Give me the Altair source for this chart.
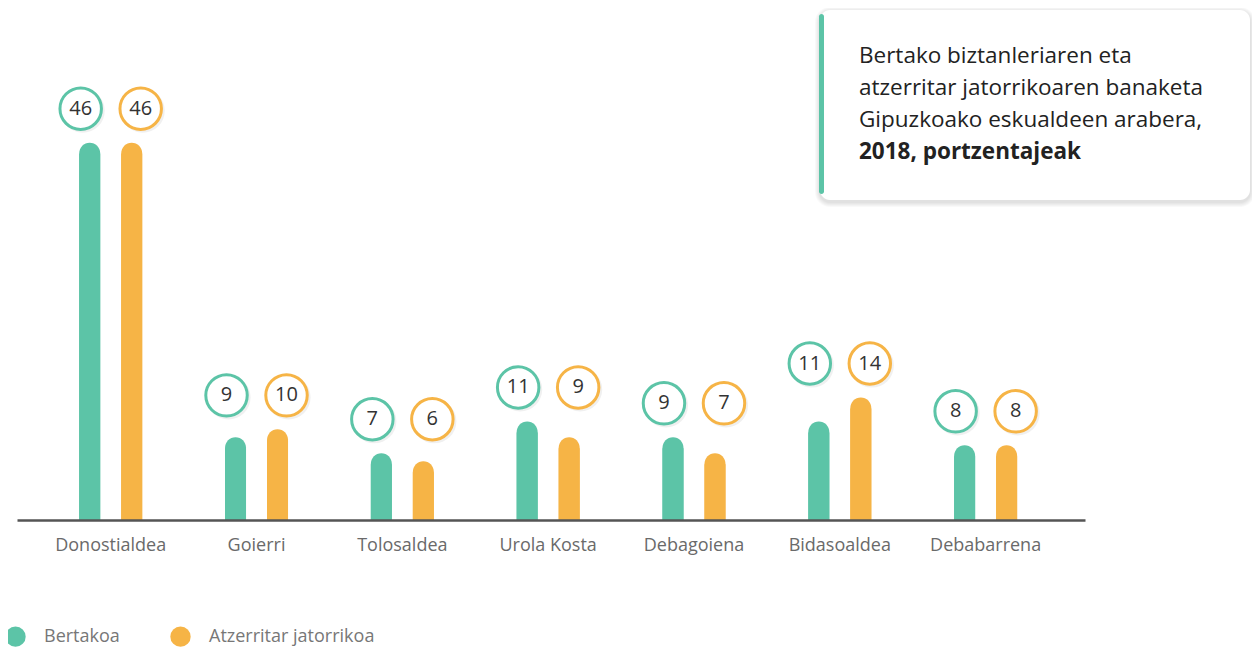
import altair as alt
import pandas as pd

regions = ["Donostialdea", "Goierri", "Tolosaldea", "Urola Kosta",
           "Debagoiena", "Bidasoaldea", "Debabarrena"]
bertakoa = [46, 9, 7, 11, 9, 11, 8]
atzerritar = [46, 10, 6, 9, 7, 14, 8]
series = ["Bertakoa", "Atzerritar jatorrikoa"]
colors = ["#5cc4a7", "#f6b446"]
title_lines = ["Bertako biztanleriaren eta",
               "atzerritar jatorrikoaren banaketa",
               "Gipuzkoako eskualdeen arabera,"]
title_bold = "2018, portzentajeak"

rows = []
for i, r in enumerate(regions):
    m = max(bertakoa[i], atzerritar[i])
    rows.append({"region": r, "serie": series[0], "value": bertakoa[i], "top": m})
    rows.append({"region": r, "serie": series[1], "value": atzerritar[i], "top": m})
df = pd.DataFrame(rows)
dummy = pd.DataFrame({"a": [0]})

FONT = "Open Sans"
X = alt.X("region:N", sort=regions,
          scale=alt.Scale(domain=regions, paddingInner=0, paddingOuter=0.162, align=0.44),
          axis=alt.Axis(title=None, labelAngle=0, ticks=False, grid=False, zindex=1,
                        domainColor="#555555", domainWidth=2.5,
                        labelFontSize=18, labelColor="#6a6a6a", labelFont=FONT,
                        labelPadding=16))
YDOM = [0, 64.3]
Y = alt.Y("value:Q", scale=alt.Scale(domain=YDOM), axis=None, stack=None)
YT = alt.Y("top:Q", scale=alt.Scale(domain=YDOM), axis=None)
color_enc = alt.Color("serie:N", scale=alt.Scale(domain=series, range=colors),
                      legend=alt.Legend(title=None, orient="none", legendX=-12, legendY=618,
                                        direction="horizontal", symbolType="circle",
                                        symbolSize=415, labelFontSize=18, labelColor="#777777",
                                        labelFont=FONT, labelOffset=18, columnPadding=50,
                                        labelLimit=400, padding=0, symbolStrokeWidth=0,
                                        symbolOpacity=1))

layers = []
bar_off = [-21, 21]
lab_off = [-30, 30]
LAB_DY = -45
for i, s in enumerate(series):
    base = alt.Chart(df).transform_filter(alt.datum.serie == s)
    # flat bar body from the baseline to the value
    layers.append(base.mark_bar(width=21, xOffset=bar_off[i])
                  .encode(x=X, y=Y, color=color_enc))
    # same bar lifted by the cap radius, with a rounded top
    layers.append(base.mark_bar(width=21, xOffset=bar_off[i], yOffset=-11,
                                cornerRadiusTopLeft=10.5, cornerRadiusTopRight=10.5)
                  .encode(x=X, y=Y, color=color_enc))
for i, s in enumerate(series):
    base = alt.Chart(df).transform_filter(alt.datum.serie == s)
    layers.append(base.mark_point(shape="circle", filled=True, size=1950, color="#000000",
                                  opacity=0.06, xOffset=lab_off[i] + 2, yOffset=LAB_DY + 2)
                  .encode(x=X, y=YT))
    layers.append(base.mark_point(shape="circle", size=1720, fill="white", fillOpacity=1,
                                  stroke=colors[i], strokeWidth=3, opacity=1,
                                  xOffset=lab_off[i], yOffset=LAB_DY)
                  .encode(x=X, y=YT))
    layers.append(base.mark_text(fontSize=20, color="#333333", font=FONT, align="center",
                                 baseline="middle", xOffset=lab_off[i], yOffset=LAB_DY)
                  .encode(x=X, y=YT, text="value:Q"))

# title box
bx0, bx1, by0, by1 = 803, 1233, 2, 192
for k in range(1, 6):
    layers.append(alt.Chart(dummy).mark_rect(cornerRadius=10 + k, color="#000000", opacity=0.025)
                  .encode(x=alt.value(bx0 - k), x2=alt.value(bx1 + k),
                          y=alt.value(by0 - k + 2), y2=alt.value(by1 + k + 2)))
layers.append(alt.Chart(dummy).mark_rect(cornerRadius=10, color="white")
              .encode(x=alt.value(bx0), x2=alt.value(bx1), y=alt.value(by0), y2=alt.value(by1)))
layers.append(alt.Chart(dummy).mark_rect(cornerRadius=2.5, color=colors[0])
              .encode(x=alt.value(802), x2=alt.value(807), y=alt.value(6), y2=alt.value(186)))
for j, line in enumerate(title_lines + [title_bold]):
    layers.append(alt.Chart(dummy).mark_text(text=line, align="left", baseline="middle",
                                             fontSize=22.5, font=FONT, color="#222222",
                                             fontWeight="bold" if j == 3 else "normal")
                  .encode(x=alt.value(842), y=alt.value(48 + 32 * j)))

chart = alt.layer(*layers).properties(
    width=1068, height=512,
    autosize=alt.AutoSizeParams(type="none"),
    padding={"left": 9, "right": 167, "top": 0, "bottom": 131},
).configure_view(stroke=None)

chart.save("out.html", embed_options={"renderer": "svg", "actions": False})
